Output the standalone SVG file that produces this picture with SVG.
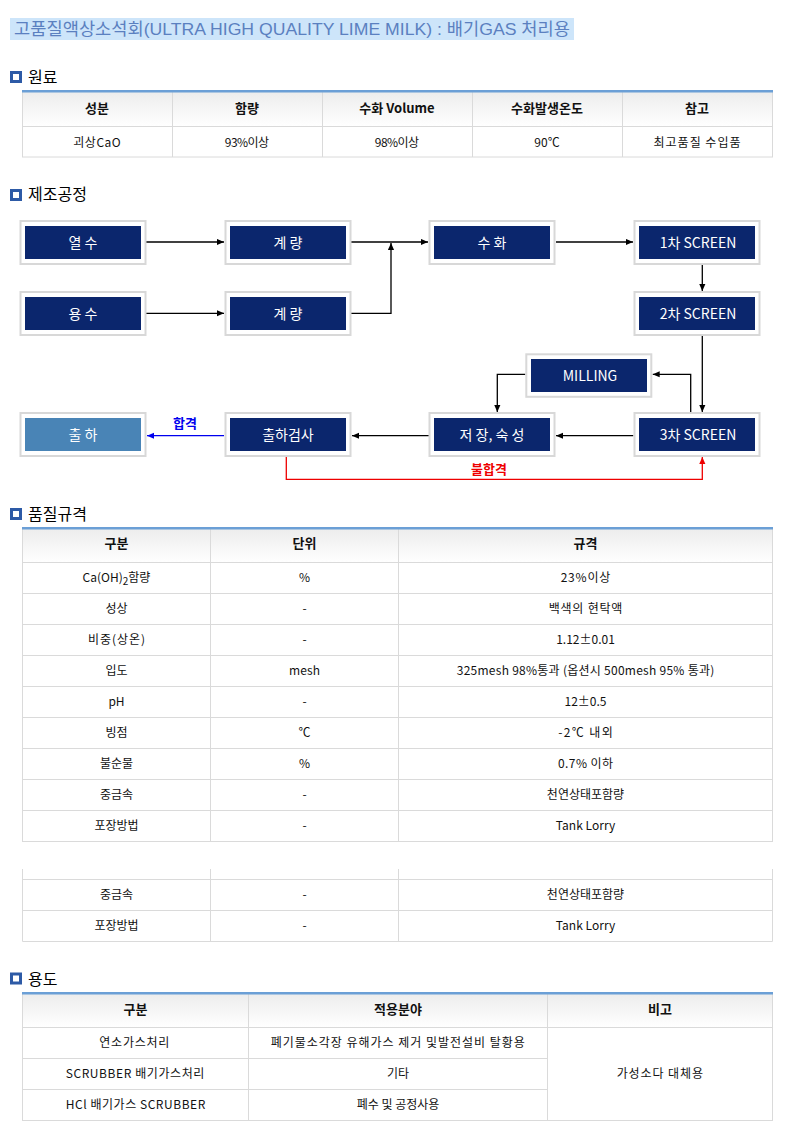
<svg xmlns="http://www.w3.org/2000/svg" width="789" height="1139" viewBox="0 0 789 1139">
<defs>
<linearGradient id="hg" x1="0" y1="0" x2="0" y2="1">
<stop offset="0" stop-color="#ececec"/>
<stop offset="1" stop-color="#ffffff"/>
</linearGradient>
<marker id="ak" viewBox="0 0 8 8" refX="8" refY="4" markerWidth="7" markerHeight="7" markerUnits="userSpaceOnUse" orient="auto"><path d="M0,0.5 L8,4 L0,7.5 z" fill="#000"/></marker>
<marker id="ab" viewBox="0 0 8 8" refX="8" refY="4" markerWidth="7" markerHeight="7" markerUnits="userSpaceOnUse" orient="auto"><path d="M0,0.5 L8,4 L0,7.5 z" fill="#0000ee"/></marker>
<marker id="ar" viewBox="0 0 8 8" refX="8" refY="4" markerWidth="7" markerHeight="7" markerUnits="userSpaceOnUse" orient="auto"><path d="M0,0.5 L8,4 L0,7.5 z" fill="#ee0000"/></marker>
</defs>
<style>
text{font-family:"Noto Sans CJK KR","Liberation Sans",sans-serif}
.title{font-family:"Liberation Sans","Noto Sans CJK KR",sans-serif;font-size:17px;fill:#5b80c0}
.sec{font-size:16px;fill:#000}
.ico{fill:#fff;stroke:#2d5aa6;stroke-width:3}
.th{font-size:13px;font-weight:bold;fill:#111;text-anchor:middle}
.td{font-size:12px;fill:#111;text-anchor:middle}
.grid{stroke:#dadada;stroke-width:1;fill:none}
.topb{fill:#6b9fd6}
.ob{fill:#fff;stroke:#d8d8d8;stroke-width:2}
.ib{fill:#0b266d}
.ib2{fill:#4984b6}
.bt{font-size:14px;fill:#fff;text-anchor:middle}
.ln{fill:none;stroke:#000;stroke-width:1.3}
.lb{fill:none;stroke:#0000ee;stroke-width:1.3}
.lr{fill:none;stroke:#ee0000;stroke-width:1.3}
.lab{font-size:13px;font-weight:bold;text-anchor:middle}
</style>
<rect width="789" height="1139" fill="#fff"/>

<!-- title -->
<rect x="10" y="18" width="564" height="22" fill="#cde5fa"/>
<text class="title" x="14" y="35" textLength="556" lengthAdjust="spacingAndGlyphs">고품질액상소석회(ULTRA HIGH QUALITY LIME MILK) : 배기GAS 처리용</text>

<!-- section 원료 -->
<rect class="ico" x="11.5" y="72.5" width="9" height="9"/>
<text class="sec" x="28" y="83">원료</text>
<g id="table-raw">
<rect x="22" y="91" width="751" height="35.5" fill="url(#hg)"/>
<rect class="grid" x="22.5" y="90.5" width="750" height="66.5"/>
<path class="grid" d="M22.5 126.5H772.5M172.5 90.5V157M322.5 90.5V157M472.5 90.5V157M622.5 90.5V157"/>
<rect class="topb" x="22" y="90" width="751" height="2.5"/>
<text class="th" x="97" y="113">성분</text>
<text class="th" x="247" y="113">함량</text>
<text class="th" x="397" y="113">수화 Volume</text>
<text class="th" x="547" y="113">수화발생온도</text>
<text class="th" x="697" y="113">참고</text>
<text class="td" x="97" y="146.5" textLength="47.5">괴상CaO</text>
<text class="td" x="247" y="146.5" textLength="44.3">93%이상</text>
<text class="td" x="397" y="146.5" textLength="44.3">98%이상</text>
<text class="td" x="547" y="146.5">90℃</text>
<text class="td" x="697" y="146.5" textLength="87">최고품질 수입품</text>
</g>

<!-- section 제조공정 -->
<rect class="ico" x="11.5" y="190.5" width="9" height="9"/>
<text class="sec" x="28" y="200">제조공정</text>

<g id="connectors">
<path class="ln" d="M141 242H224" marker-end="url(#ak)"/>
<path class="ln" d="M141 313.3H224" marker-end="url(#ak)"/>
<path class="ln" d="M346 242H428" marker-end="url(#ak)"/>
<path class="ln" d="M346 313.3H391V243" marker-end="url(#ak)"/>
<path class="ln" d="M556 242H633" marker-end="url(#ak)"/>
<path class="ln" d="M702.3 264.5V291" marker-end="url(#ak)"/>
<path class="ln" d="M702.3 336V412" marker-end="url(#ak)"/>
<path class="ln" d="M690.7 412V374.3H652.7" marker-end="url(#ak)"/>
<path class="ln" d="M525.3 374.3H497.3V412" marker-end="url(#ak)"/>
<path class="ln" d="M633.3 435.7H556" marker-end="url(#ak)"/>
<path class="ln" d="M434 435.7H352" marker-end="url(#ak)"/>
<path class="lb" d="M224 435.7H147" marker-end="url(#ab)"/>
<path class="lr" d="M286.3 457V479.3H702.3V457" marker-end="url(#ar)"/>
<text class="lab" x="185" y="428" fill="#0000ee">합격</text>
<text class="lab" x="489" y="474" fill="#ee0000">불합격</text>
</g>

<g id="n-yeolsu"><rect class="ob" x="20.5" y="221" width="125" height="43"/><rect class="ib" x="25" y="226" width="116" height="33"/><text class="bt" x="83" y="248">열 수</text></g>
<g id="n-gyeryang1"><rect class="ob" x="225.5" y="221" width="125" height="43"/><rect class="ib" x="230" y="226" width="116" height="33"/><text class="bt" x="288" y="248">계 량</text></g>
<g id="n-suhwa"><rect class="ob" x="429.5" y="221" width="125" height="43"/><rect class="ib" x="434" y="226" width="116" height="33"/><text class="bt" x="492" y="248">수 화</text></g>
<g id="n-screen1"><rect class="ob" x="634.5" y="221" width="125" height="43"/><rect class="ib" x="639" y="226" width="116" height="33"/><text class="bt" x="698" y="248">1차 SCREEN</text></g>
<g id="n-yongsu"><rect class="ob" x="20.5" y="292" width="125" height="43"/><rect class="ib" x="25" y="297" width="116" height="33"/><text class="bt" x="83" y="319">용 수</text></g>
<g id="n-gyeryang2"><rect class="ob" x="225.5" y="292" width="125" height="43"/><rect class="ib" x="230" y="297" width="116" height="33"/><text class="bt" x="288" y="319">계 량</text></g>
<g id="n-screen2"><rect class="ob" x="634.5" y="292" width="125" height="43"/><rect class="ib" x="639" y="297" width="116" height="33"/><text class="bt" x="698" y="319">2차 SCREEN</text></g>
<g id="n-milling"><rect class="ob" x="526.3" y="354.3" width="125" height="42.5"/><rect class="ib" x="531" y="359" width="116" height="33"/><text class="bt" x="590" y="381">MILLING</text></g>
<g id="n-chulha"><rect class="ob" x="20.5" y="413" width="125" height="43"/><rect class="ib2" x="25" y="418" width="116" height="33"/><text class="bt" x="83" y="440">출 하</text></g>
<g id="n-inspect"><rect class="ob" x="225.5" y="413" width="125" height="43"/><rect class="ib" x="230" y="418" width="116" height="33"/><text class="bt" x="288" y="440">출하검사</text></g>
<g id="n-storage"><rect class="ob" x="429.5" y="413" width="125" height="43"/><rect class="ib" x="434" y="418" width="116" height="33"/><text class="bt" x="492" y="440">저 장, 숙 성</text></g>
<g id="n-screen3"><rect class="ob" x="634.5" y="413" width="125" height="43"/><rect class="ib" x="639" y="418" width="116" height="33"/><text class="bt" x="698" y="440">3차 SCREEN</text></g>

<!-- section 품질규격 -->
<rect class="ico" x="11.5" y="509.5" width="9" height="9"/>
<text class="sec" x="28" y="520">품질규격</text>
<g id="table-quality">
<rect x="22" y="528" width="751" height="34.5" fill="url(#hg)"/>
<rect class="grid" x="22.5" y="527.5" width="750" height="314"/>
<path class="grid" d="M22.5 562.5H772.5M22.5 593.5H772.5M22.5 624.5H772.5M22.5 655.5H772.5M22.5 686.5H772.5M22.5 717.5H772.5M22.5 748.5H772.5M22.5 779.5H772.5M22.5 810.5H772.5M210.5 527.5V841.5M398.5 527.5V841.5"/>
<rect class="topb" x="22" y="527" width="751" height="2.5"/>
<text class="th" x="116.5" y="547.5">구분</text>
<text class="th" x="304.5" y="547.5">단위</text>
<text class="th" x="585.5" y="547.5">규격</text>
<text class="td" x="116.5" y="582">Ca(OH)<tspan font-size="10" dy="3">2</tspan><tspan dy="-3">함량</tspan></text>
<text class="td" x="304.5" y="582">%</text>
<text class="td" x="585.5" y="582" textLength="49.7">23%이상</text>
<text class="td" x="116.5" y="613">성상</text>
<text class="td" x="304.5" y="613">-</text>
<text class="td" x="585.5" y="613" textLength="73.7">백색의 현탁액</text>
<text class="td" x="116.5" y="644" textLength="57">비중(상온)</text>
<text class="td" x="304.5" y="644">-</text>
<text class="td" x="585.5" y="644">1.12±0.01</text>
<text class="td" x="116.5" y="675">입도</text>
<text class="td" x="304.5" y="675" textLength="31">mesh</text>
<text class="td" x="585.5" y="675" textLength="257.6">325mesh 98%통과 (옵션시 500mesh 95% 통과)</text>
<text class="td" x="116.5" y="706">pH</text>
<text class="td" x="304.5" y="706">-</text>
<text class="td" x="585.5" y="706">12±0.5</text>
<text class="td" x="116.5" y="737">빙점</text>
<text class="td" x="304.5" y="737">℃</text>
<text class="td" x="585.5" y="737" textLength="54.7">-2℃ 내외</text>
<text class="td" x="116.5" y="768">불순물</text>
<text class="td" x="304.5" y="768">%</text>
<text class="td" x="585.5" y="768" textLength="55">0.7% 이하</text>
<text class="td" x="116.5" y="799">중금속</text>
<text class="td" x="304.5" y="799">-</text>
<text class="td" x="585.5" y="799">천연상태포함량</text>
<text class="td" x="116.5" y="830">포장방법</text>
<text class="td" x="304.5" y="830">-</text>
<text class="td" x="585.5" y="830" textLength="59.6">Tank Lorry</text>
</g>
<g id="table-quality-fragment">
<path class="grid" d="M22.5 879.5H772.5M22.5 910.5H772.5M22.5 941.5H772.5M22.5 869V941.5M210.5 869V941.5M398.5 869V941.5M772.5 869V941.5"/>
<text class="td" x="116.5" y="899">중금속</text>
<text class="td" x="304.5" y="899">-</text>
<text class="td" x="585.5" y="899">천연상태포함량</text>
<text class="td" x="116.5" y="930">포장방법</text>
<text class="td" x="304.5" y="930">-</text>
<text class="td" x="585.5" y="930" textLength="59.6">Tank Lorry</text>
</g>

<!-- section 용도 -->
<rect class="ico" x="11.5" y="974" width="9" height="9"/>
<text class="sec" x="28" y="985">용도</text>
<g id="table-usage">
<rect x="22" y="993" width="751" height="34.5" fill="url(#hg)"/>
<rect class="grid" x="22.5" y="992.5" width="750" height="128"/>
<path class="grid" d="M22.5 1027.5H772.5M22.5 1058.5H547.5M22.5 1089.5H547.5M248.5 992.5V1120.5M547.5 992.5V1120.5"/>
<rect class="topb" x="22" y="992" width="751" height="2.5"/>
<text class="th" x="135.5" y="1013.5">구분</text>
<text class="th" x="398" y="1013.5">적용분야</text>
<text class="th" x="660" y="1013.5">비고</text>
<text class="td" x="134.3" y="1047" textLength="70">연소가스처리</text>
<text class="td" x="397.8" y="1047" textLength="254">폐기물소각장 유해가스 제거 및발전설비 탈황용</text>
<text class="td" x="135" y="1078" textLength="138.6">SCRUBBER 배기가스처리</text>
<text class="td" x="398" y="1078">기타</text>
<text class="td" x="135.5" y="1109" textLength="139.6">HCl 배기가스 SCRUBBER</text>
<text class="td" x="398" y="1109">폐수 및 공정사용</text>
<text class="td" x="659.8" y="1078" textLength="86.3">가성소다 대체용</text>
</g>
</svg>
